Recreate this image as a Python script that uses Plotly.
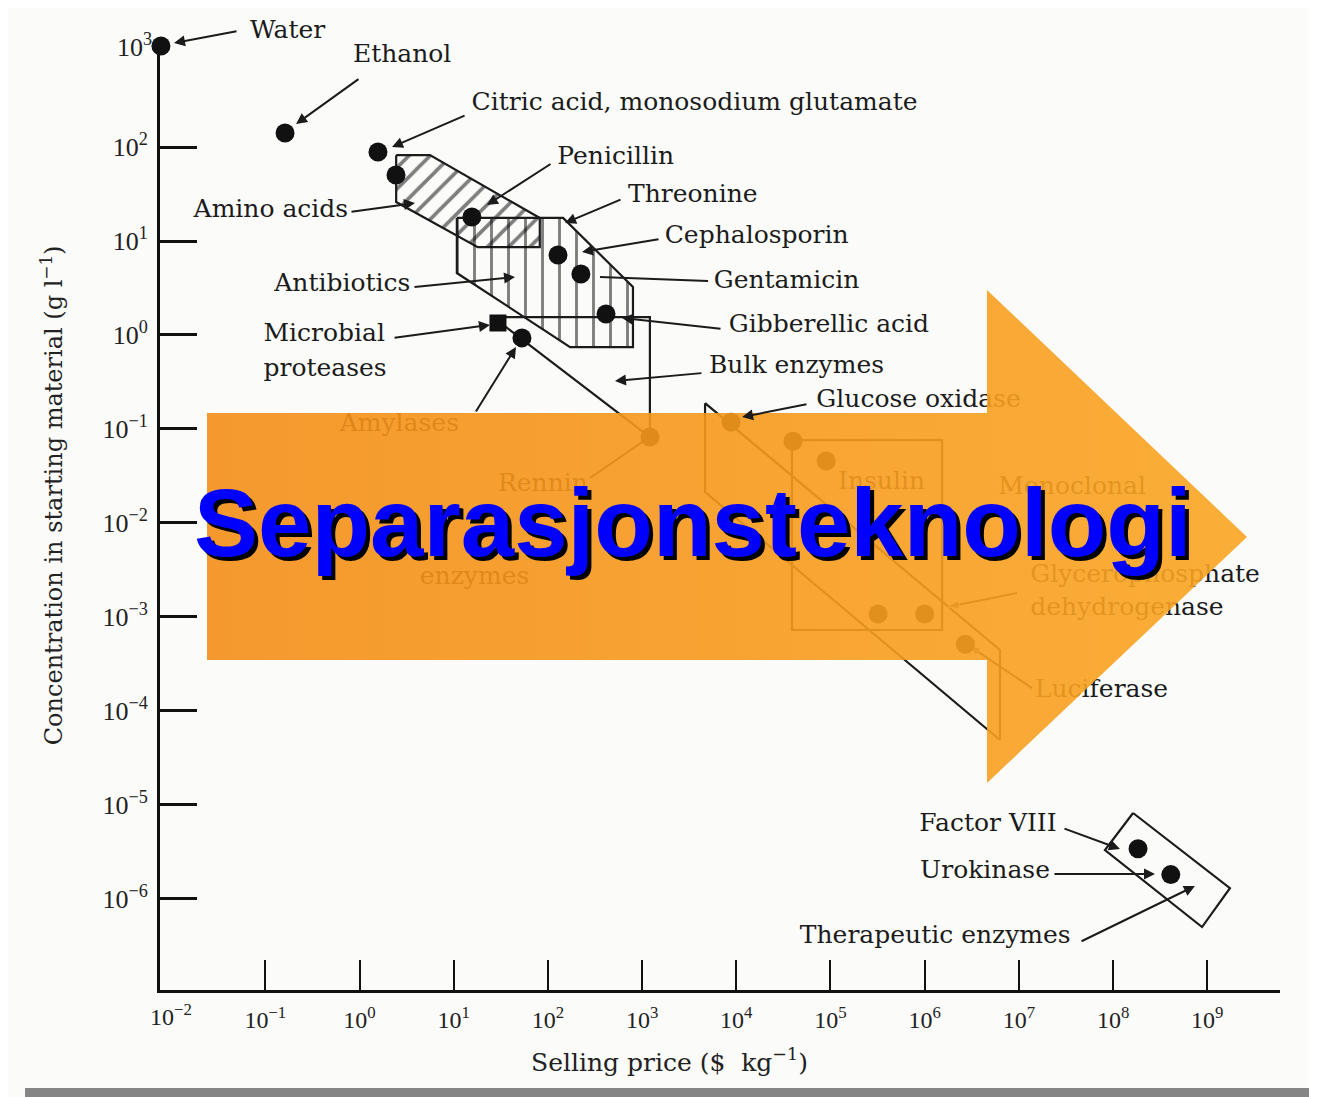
import plotly.graph_objects as go

# Selling price ($/kg) against concentration in the starting material (g/l)
product_names = ["Water", "Ethanol", "Citric acid, monosodium glutamate", "Amino acids",
                 "Penicillin", "Cephalosporin", "Gentamicin", "Gibberellic acid",
                 "Amylases", "Rennin", "Glucose oxidase", "Insulin", "Insulin",
                 "Monoclonal antibodies", "Glycerophosphate dehydrogenase", "Luciferase",
                 "Factor VIII", "Urokinase"]
price_usd_per_kg = [7.8e-3, 0.162, 1.57, 2.44, 15.6, 128, 224, 414, 53, 1.21e3,
                    8.8e3, 4.0e4, 9.0e4, 3.2e5, 1.0e6, 2.7e6, 1.84e8, 4.1e8]
conc_g_per_l = [1.19e3, 141, 88.5, 50.4, 18.0, 7.1, 4.45, 1.67, 0.93, 0.082,
                0.118, 0.074, 0.0455, 1.07e-3, 1.07e-3, 5.1e-4, 3.4e-6, 1.8e-6]

# microbial proteases are drawn with a square marker
protease_price = [29.5]
protease_conc = [1.34]

# product ranges, corner points (price $/kg, conc g/l)
amino_acid_price = [2.45, 5.6, 82, 82, 18, 2.45]
amino_acid_conc = [82, 82, 17.6, 8.6, 8.6, 26]
antibiotic_price = [10.8, 145, 800, 800, 172, 10.8]
antibiotic_conc = [17.6, 17.6, 3.24, 0.743, 0.743, 4.56]
bulk_enzyme_price = [26.1, 1.21e3, 1.21e3]
bulk_enzyme_conc = [1.55, 1.55, 0.0818]
fine_enzyme_price = [4.66e3, 6.3e6, 6.3e6, 4.66e3]
fine_enzyme_conc = [0.188, 4.43e-4, 4.88e-5, 0.0213]
insulin_price = [3.9e4, 1.53e6, 1.53e6, 3.9e4]
insulin_conc = [0.076, 0.076, 7.23e-4, 7.23e-4]
therapeutic_price = [1.63e8, 1.74e9, 8.8e8, 8.2e7]
therapeutic_conc = [8.15e-6, 1.29e-6, 4.98e-7, 3.29e-6]

x_decades = list(range(-2, 10))
y_decades = list(range(-7, 4))

# labels: text, log10 price, log10 conc, side the text runs to
labels = [
    ("Ethanol", -0.07, 2.969, "r"),
    ("Citric acid, monosodium glutamate", 1.19, 2.458, "r"),
    ("Penicillin", 2.10, 1.883, "r"), ("Threonine", 2.85, 1.479, "r"),
    ("Cephalosporin", 3.24, 1.042, "r"), ("Gentamicin", 3.76, 0.563, "r"),
    ("Gibberellic acid", 3.92, 0.095, "r"), ("Bulk enzymes", 3.71, -0.341, "r"),
    ("Glucose oxidase", 4.85, -0.703, "r"), ("Amino acids", -0.12, 1.319, "l"),
    ("Antibiotics", 0.54, 0.531, "l"), ("Microbial", -1.02, 0.0, "r"),
    ("proteases", -1.02, -0.373, "r"), ("Amylases", -0.21, -0.959, "r"),
    ("Rennin", 1.47, -1.598, "r"), ("enzymes", 0.64, -2.588, "r"),
    ("Insulin", 5.08, -1.576, "r"), ("Monoclonal", 6.78, -1.630, "r"),
    ("Glycerophosphate", 7.12, -2.566, "r"),
    ("dehydrogenase", 7.12, -2.918, "r"), ("Luciferase", 7.17, -3.790, "r"),
    ("Factor VIII", 7.40, -5.217, "l"), ("Urokinase", 7.33, -5.717, "l"),
    ("Therapeutic enzymes", 7.55, -6.409, "l"),
]

# pointers drawn on top (log10 tail -> log10 head)
pointers = [
    (0.005, 2.735, -0.674, 2.245),
    (1.131, 2.341, 0.345, 2.000), (2.044, 1.830, 1.353, 1.383),
    (2.787, 1.447, 2.182, 1.191), (3.190, 1.021, 2.362, 0.883),
    (3.848, 0.063, 2.787, 0.180), (3.646, -0.405, 2.712, -0.490),
    (4.761, -0.735, 4.061, -0.874), (-0.101, 1.309, 0.589, 1.404),
    (0.568, 0.510, 1.651, 0.617), (0.356, -0.033, 1.385, 0.106),
    (1.226, -0.831, 1.661, -0.129), (7.468, -5.249, 8.073, -5.472),
    (7.362, -5.739, 8.445, -5.739), (7.649, -6.462, 8.869, -5.866),
]
# plain leader lines / pointers that sit under the banner
leaders = [
    (3.700, 0.574, 2.553, 0.617, False), (2.447, -1.523, 3.063, -1.097, False),
    (6.980, -2.747, 6.237, -2.896, True), (7.139, -3.759, 6.460, -3.301, True),
]

INK = "#1b1b1b"
SERIF = "DejaVu Serif"


def sup(k):
    return "10<sup>" + str(k).replace("-", "\u2212") + "</sup>"


fig = go.Figure()


def region(xs, ys, pattern=None):
    xs = list(xs) + [xs[0]]
    ys = list(ys) + [ys[0]]
    extra = {}
    if pattern:
        extra = dict(fill="toself", fillcolor="rgba(0,0,0,0)",
                     fillpattern=dict(shape=pattern[0], size=pattern[1], solidity=pattern[2],
                                      fgcolor="#000000", bgcolor="rgba(0,0,0,0)"))
    fig.add_trace(go.Scatter(x=xs, y=ys, mode="lines", line=dict(color=INK, width=2.2),
                             hoverinfo="skip", **extra))


region(amino_acid_price, amino_acid_conc, ("/", 15, 0.24))
region(antibiotic_price, antibiotic_conc, ("|", 17, 0.17))
region(bulk_enzyme_price, bulk_enzyme_conc)
region(fine_enzyme_price, fine_enzyme_conc)
region(insulin_price, insulin_conc)
region(therapeutic_price, therapeutic_conc)

for x0, y0, x1, y1, head in leaders:
    fig.add_trace(go.Scatter(
        x=[10 ** x0, 10 ** x1], y=[10 ** y0, 10 ** y1],
        mode="lines+markers" if head else "lines",
        line=dict(color=INK, width=2),
        marker=dict(symbol="arrow", size=[0, 13], angleref="previous", color=INK),
        hoverinfo="skip"))

fig.add_trace(go.Scatter(
    x=price_usd_per_kg, y=conc_g_per_l, mode="markers", text=product_names,
    marker=dict(size=19, color="#111111"), cliponaxis=False,
    hovertemplate="<b>%{text}</b><br>%{x} $/kg<br>%{y} g/l<extra></extra>"))
fig.add_trace(go.Scatter(
    x=protease_price, y=protease_conc, mode="markers",
    marker=dict(size=17, color="#111111", symbol="square"), hoverinfo="skip"))

for side, pos in (("r", "middle right"), ("l", "middle left")):
    sel = [lab for lab in labels if lab[3] == side]
    fig.add_trace(go.Scatter(
        x=[10 ** lab[1] for lab in sel], y=[10 ** lab[2] for lab in sel],
        text=[lab[0] for lab in sel], mode="text", textposition=pos,
        textfont=dict(family=SERIF, size=25, color=INK), cliponaxis=False, hoverinfo="skip"))

# orange banner arrow, drawn in pixel space on an overlaid pair of axes
banner_x = [207, 987, 987, 1247, 987, 987, 207, 207]
banner_y = [413, 413, 290, 537, 783, 660, 660, 413]
fig.add_trace(go.Scatter(
    x=banner_x, y=banner_y, xaxis="x2", yaxis="y2", mode="lines", fill="toself",
    fillgradient=dict(type="horizontal", colorscale=[[0, "#F48E17"], [1, "#FAA522"]]),
    line=dict(width=0), opacity=0.9, hoverinfo="skip"))

annotations = []
for x0, y0, x1, y1 in pointers:
    annotations.append(dict(
        x=x1, y=y1, xref="x", yref="y", ax=x0, ay=y0, axref="x", ayref="y", text="",
        showarrow=True, arrowhead=2, arrowsize=1.1, arrowwidth=2, arrowcolor=INK, standoff=0))

# water sits on the top corner, so its label and pointer are placed on the paper
annotations += [
    dict(x=0.0125, y=1.0011, xref="paper", yref="paper", ax=64, ay=-12, text="",
         showarrow=True, arrowhead=2, arrowsize=1.1, arrowwidth=2, arrowcolor=INK, standoff=0),
    dict(x=0.0786, y=1.0148, xref="paper", yref="paper", text="Water", showarrow=False,
         xanchor="left", yanchor="middle", font=dict(family=SERIF, size=25, color=INK)),
]

# outer decade labels that have no tick mark
annotations += [
    dict(x=-2, y=0, xref="x", yref="paper", text=sup(-2), showarrow=False, yanchor="top",
         yshift=-8, font=dict(family="Liberation Serif", size=24, color="#222")),
    dict(x=0, y=3, xref="paper", yref="y", text=sup(3), showarrow=False, xanchor="right",
         xshift=-6, yshift=8, font=dict(family="Liberation Serif", size=26, color="#222")),
    dict(x=0, y=-7, xref="paper", yref="y", text=sup(-7), showarrow=False, xanchor="right",
         xshift=-6, font=dict(family="Liberation Serif", size=26, color="#222")),
]

# axis titles
annotations += [
    dict(x=0.455, y=-0.074, xref="paper", yref="paper", showarrow=False,
         xanchor="center", yanchor="middle",
         text="Selling price ($  kg<sup>\u22121</sup>)",
         font=dict(family=SERIF, size=25, color="#222")),
    dict(x=-0.0964, y=0.523, xref="paper", yref="paper", showarrow=False, textangle=-90,
         xanchor="center", yanchor="middle",
         text="Concentration in starting material (g l<sup>\u22121</sup>)",
         font=dict(family=SERIF, size=24, color="#222")),
]

# slide title with drop shadow
for shift, colour in ((4, "#000000"), (0, "#0000FF")):
    annotations.append(dict(
        x=693, y=522, xref="x2", yref="y2", showarrow=False, text="Separasjonsteknologi",
        xshift=shift, yshift=-shift,
        font=dict(family="Liberation Sans", size=96, color=colour, weight="bold")))

fig.update_layout(
    width=1317, height=1097,
    margin=dict(l=152, r=45, t=36, b=115),
    paper_bgcolor="#FBFBFA", plot_bgcolor="rgba(0,0,0,0)",
    showlegend=False,
    xaxis=dict(
        type="log", range=[-2.118, 9.772], showgrid=False, zeroline=False,
        showline=True, linewidth=3, linecolor="#111",
        tickmode="array", tickvals=[10 ** k for k in x_decades[1:]],
        ticktext=[sup(k) for k in x_decades[1:]],
        ticks="inside", ticklen=30, tickwidth=2.2, tickcolor="#111",
        ticklabelstandoff=6,
        tickfont=dict(family="Liberation Serif", size=24, color="#222")),
    yaxis=dict(
        type="log", range=[-6.973, 3.097], showgrid=False, zeroline=False,
        showline=True, linewidth=3, linecolor="#111",
        tickmode="array", tickvals=[10 ** k for k in y_decades[1:-1]],
        ticktext=[sup(k) for k in y_decades[1:-1]],
        ticks="inside", ticklen=37, tickwidth=3, tickcolor="#111",
        ticklabelstandoff=4,
        tickfont=dict(family="Liberation Serif", size=26, color="#222")),
    xaxis2=dict(overlaying="x", anchor="y2", range=[160, 1280], visible=False),
    yaxis2=dict(overlaying="y", anchor="x2", range=[990, 44], visible=False),
    annotations=annotations,
    shapes=[dict(type="rect", xref="paper", yref="paper", x0=-0.1205, x1=1.04,
                 y0=-0.1036, y1=-0.13, fillcolor="#858585", line=dict(width=0))],
)

fig.write_html("out.html")
